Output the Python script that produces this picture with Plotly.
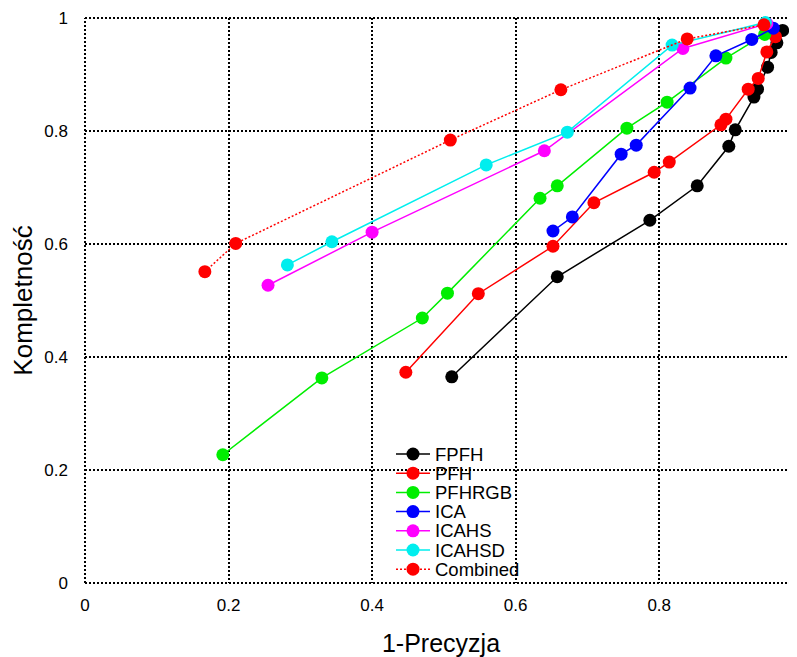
import plotly.graph_objects as go

fpfh_x = [0.511, 0.658, 0.787, 0.853, 0.897, 0.906, 0.932, 0.937, 0.951, 0.956, 0.964, 0.972]
fpfh_y = [0.365, 0.542, 0.642, 0.703, 0.773, 0.802, 0.860, 0.874, 0.913, 0.939, 0.956, 0.978]

pfh_x = [0.447, 0.548, 0.652, 0.709, 0.793, 0.814, 0.886, 0.893, 0.924, 0.938, 0.950, 0.962]
pfh_y = [0.373, 0.512, 0.596, 0.673, 0.727, 0.745, 0.811, 0.821, 0.874, 0.893, 0.940, 0.967]

pfhrgb_x = [0.192, 0.330, 0.470, 0.505, 0.634, 0.658, 0.755, 0.811, 0.893, 0.947]
pfhrgb_y = [0.227, 0.363, 0.469, 0.513, 0.681, 0.703, 0.805, 0.851, 0.929, 0.971]

ica_x = [0.652, 0.679, 0.747, 0.768, 0.843, 0.879, 0.929, 0.959]
ica_y = [0.623, 0.648, 0.759, 0.775, 0.876, 0.933, 0.962, 0.982]

icahs_x = [0.255, 0.400, 0.640, 0.833, 0.950]
icahs_y = [0.527, 0.621, 0.765, 0.946, 0.990]

icahsd_x = [0.282, 0.344, 0.559, 0.672, 0.818, 0.948]
icahsd_y = [0.563, 0.604, 0.740, 0.798, 0.952, 0.992]

comb_x = [0.167, 0.210, 0.509, 0.663, 0.839, 0.946]
comb_y = [0.551, 0.601, 0.784, 0.873, 0.963, 0.988]

x_ticks = [0, 0.2, 0.4, 0.6, 0.8]
x_tick_labels = ["0", "0.2", "0.4", "0.6", "0.8"]
y_ticks = [0, 0.2, 0.4, 0.6, 0.8, 1]
y_tick_labels = ["0", "0.2", "0.4", "0.6", "0.8", "1"]

series = [
    ("FPFH", fpfh_x, fpfh_y, "#000000", "solid"),
    ("PFH", pfh_x, pfh_y, "#ff0000", "solid"),
    ("PFHRGB", pfhrgb_x, pfhrgb_y, "#00ee00", "solid"),
    ("ICA", ica_x, ica_y, "#0000ff", "solid"),
    ("ICAHS", icahs_x, icahs_y, "#ff00ff", "solid"),
    ("ICAHSD", icahsd_x, icahsd_y, "#00eeee", "solid"),
    ("Combined", comb_x, comb_y, "#ff0000", "2px,2px"),
]

FONT = "Liberation Sans, Arial, Helvetica, sans-serif"
W, H = 789, 649          # page body has an 8px margin
ML, MR, MT, MB = 77, 0, 10, 74
PW, PH = W - ML - MR, H - MT - MB

fig = go.Figure()
for name, xs, ys, col, dash in series:
    fig.add_trace(go.Scatter(
        x=xs, y=ys, name=name, mode="lines+markers",
        line=dict(color=col, width=1.5, dash=dash),
        marker=dict(color=col, size=13, symbol="circle"),
        cliponaxis=False, showlegend=False,
    ))

# dotted frame along the plot edges
frame = dict(color="black", width=2, dash="2px,2px")
for x0, x1, y0, y1 in [(0, 1, 0, 0), (0, 1, 1, 1), (0, 0, 0, 1)]:
    fig.add_shape(type="line", xref="paper", yref="paper",
                  x0=x0, x1=x1, y0=y0, y1=y1, line=frame, layer="below")

# compact hand-built legend (pixel layout inside the plot area)
leg_left_px = 396 - 8 - ML     # symbol line start, relative to plot area
leg_line_len = 34
leg_top_px = 454 - 8 - MT       # first row centre, relative to plot top
leg_step = 19.2
for i, (name, xs, ys, col, dash) in enumerate(series):
    yc = 1 - (leg_top_px + i * leg_step) / PH
    xa = leg_left_px / PW
    xb = (leg_left_px + leg_line_len) / PW
    xm = (xa + xb) / 2
    fig.add_shape(type="line", xref="paper", yref="paper",
                  x0=xa, x1=xb, y0=yc, y1=yc,
                  line=dict(color=col, width=1.5, dash=dash))
    fig.add_shape(type="circle", xref="paper", yref="paper",
                  xsizemode="pixel", ysizemode="pixel",
                  xanchor=xm, yanchor=yc, x0=-6.5, x1=6.5, y0=-6.5, y1=6.5,
                  fillcolor=col, line=dict(color=col, width=0))
    fig.add_annotation(xref="paper", yref="paper", x=xb + 3 / PW, y=yc,
                       text=name, showarrow=False, xanchor="left", yanchor="middle",
                       font=dict(family=FONT, size=18.5, color="black"))

fig.update_layout(
    width=W, height=H,
    margin=dict(l=ML, r=MR, t=MT, b=MB, autoexpand=False),
    paper_bgcolor="white", plot_bgcolor="white",
    font=dict(family=FONT, color="black", size=17),
    showlegend=False,
    xaxis=dict(range=[0, 0.992], tickvals=x_ticks, ticktext=x_tick_labels,
               showgrid=True, gridcolor="black", griddash="2px,2px", gridwidth=2,
               zeroline=False, showline=False, ticks="", ticklen=0,
               automargin=False, ticklabelstandoff=10,
               title=dict(text="1-Precyzja", font=dict(size=25), standoff=22),
               tickfont=dict(size=17)),
    yaxis=dict(range=[0, 1], tickvals=y_ticks, ticktext=y_tick_labels,
               showgrid=True, gridcolor="black", griddash="2px,2px", gridwidth=2,
               zeroline=False, showline=False, ticks="", ticklen=0,
               automargin=False, ticklabelstandoff=16,
               title=dict(text="Kompletność", font=dict(size=26), standoff=12),
               tickfont=dict(size=17)),
)

fig.write_html("out.html")
